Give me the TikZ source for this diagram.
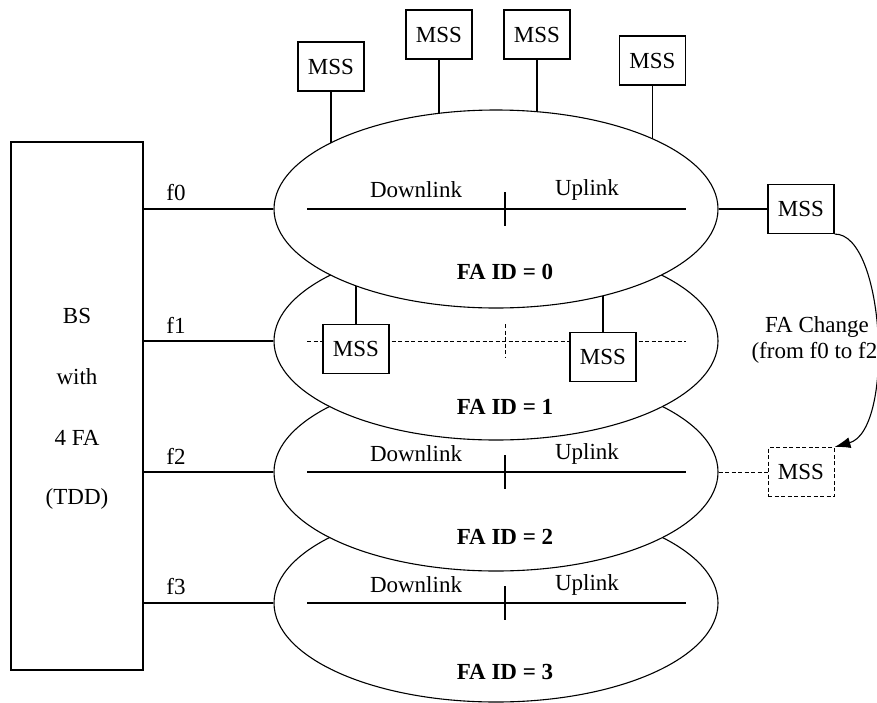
\documentclass[tikz,border=0pt]{standalone}
\usepackage{fontspec}
\setmainfont{Liberation Serif}
\usetikzlibrary{shapes.geometric,arrows.meta}
\begin{document}
\begin{tikzpicture}[x=1pt,y=-1pt,line width=1.1pt,
  every node/.style={font=\fontsize{23}{27}\selectfont, inner sep=0pt},
  ell/.style={ellipse, draw, fill=white, minimum width=444pt, minimum height=198pt},
  mss/.style={draw, fill=white, minimum width=66pt, minimum height=49pt},
  fa/.style={font=\fontsize{23}{27}\selectfont\bfseries},
  dsh/.style={dash pattern=on 4pt off 2.5pt}]
\useasboundingbox (0,0) rectangle (877,702);
\coordinate (c0) at (496,209);

% ellipse FA 3
\node[ell] (e3) at (496,603) {};
\coordinate (e3l) at (307,603); \coordinate (e3r) at (686,603);
\coordinate (e3t) at (505,586); \coordinate (e3b) at (505,620);
\draw (e3l) -- (e3r); \draw (e3t) -- (e3b);
\node (dl3) at (416,585) {Downlink};
\node (ul3) at (587,585) {Uplink};
\node[fa] (fa3) at (505,672) {FA ID = 3};

% ellipse FA 2
\node[ell] (e2) at (496,472) {};
\coordinate (e2l) at (307,472); \coordinate (e2r) at (686,472);
\coordinate (e2t) at (505,455); \coordinate (e2b) at (505,489);
\draw (e2l) -- (e2r); \draw (e2t) -- (e2b);
\node (dl2) at (416,454) {Downlink};
\node (ul2) at (587,454) {Uplink};
\node[fa] (fa2) at (505,537) {FA ID = 2};

% ellipse FA 1
\node[ell] (e1) at (496,341) {};
\coordinate (e1l) at (307,341); \coordinate (e1r) at (686,341);
\coordinate (e1t) at (505,324); \coordinate (e1b) at (505,358);
\draw[dsh,line width=0.9pt] (e1l) -- (e1r); \draw[dsh,line width=0.9pt] (e1t) -- (e1b);
\node[fa] (fa1) at (505,407) {FA ID = 1};
\node[mss] (m5) at (356,349) {MSS};
\node[mss] (m6) at (603,357) {MSS};
\draw (m5.north) -- (m5.north |- c0);
\draw (m6.north) -- (m6.north |- c0);

% top MSS
\node[mss] (m1) at (331,66.5) {MSS};
\node[mss] (m2) at (439,34.5) {MSS};
\node[mss] (m3) at (537,34.5) {MSS};
\node[mss] (m4) at (652.5,60.5) {MSS};
\draw (m1.south) -- (m1.south |- c0);
\draw (m2.south) -- (m2.south |- c0);
\draw (m3.south) -- (m3.south |- c0);
\draw (m4.south) -- (m4.south |- c0);

% ellipse FA 0
\node[ell] (e0) at (c0) {};
\coordinate (e0l) at (307,209); \coordinate (e0r) at (686,209);
\coordinate (e0t) at (505,192); \coordinate (e0b) at (505,226);
\draw (e0l) -- (e0r); \draw (e0t) -- (e0b);
\node (dl0) at (416,190) {Downlink};
\node (ul0) at (587,190) {Uplink};
\node[fa] (fa0) at (505,272) {FA ID = 0};

% right MSS
\node[mss] (mr) at (801,209) {MSS};
\node[mss,dsh,line width=0.9pt] (md) at (801,472) {MSS};
\draw (e0.east) -- (mr.west);
\draw[dsh,line width=0.9pt] (e2.east) -- (md.west);
\draw[-{Latex[length=16pt,width=11pt]}] (mr.south east) .. controls (885,233) and (895,430) .. (md.north east);
\node (fac) at (817,327) {FA Change};
\node[anchor=west] (fft) at (751,353) {(from f0 to f2)};

% BS
\node[draw, minimum width=132pt, minimum height=528pt] (bs) at (77,406) {};
\node (t1) at (77,316) {BS};
\node (t2) at (77,377) {with};
\node (t3) at (77,438) {4 FA};
\node (t4) at (77,499) {(TDD)};

\draw (bs.east |- e0.west) -- (e0.west);
\draw (bs.east |- e1.west) -- (e1.west);
\draw (bs.east |- e2.west) -- (e2.west);
\draw (bs.east |- e3.west) -- (e3.west);
\node (f0) at (176,193) {f0};
\node (f1) at (176,325) {f1};
\node (f2) at (176,456) {f2};
\node (f3) at (176,587) {f3};
\end{tikzpicture}
\end{document}
